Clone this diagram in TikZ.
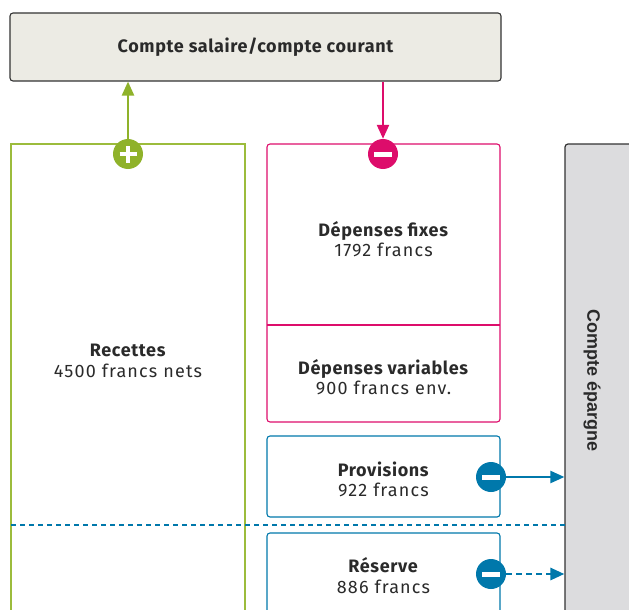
\documentclass[tikz,border=0pt]{standalone}
\usepackage{fontspec}
\setmainfont{Fira Sans}[LetterSpace=6.5, BoldFeatures={LetterSpace=3.5}]
\newfontfamily\arialf{Liberation Sans}
\usetikzlibrary{arrows.meta}
\definecolor{cgreen}{HTML}{8FB22A}
\definecolor{cgreenl}{HTML}{9CBC3C}
\definecolor{cmag}{HTML}{DD0D6B}
\definecolor{cblue}{HTML}{0078AB}
\definecolor{ctopfill}{HTML}{ECEBE4}
\definecolor{cgrayfill}{HTML}{DCDCDE}
\definecolor{cdark}{HTML}{333333}
\definecolor{ctext}{HTML}{2A2A2A}
\begin{document}
\begin{tikzpicture}[x=1pt,y=-1pt,
  txt/.style={align=center, text=ctext, font=\fontsize{18}{20.5}\selectfont, inner sep=0pt},
  topbox/.style={draw=cdark, fill=ctopfill, line width=1.1pt, rounded corners=3pt, inner sep=0pt},
  gbox/.style={draw=cgreenl, line width=1.1pt, inner sep=0pt},
  mbox/.style={draw=cmag, line width=1.1pt, rounded corners=3pt, inner sep=0pt},
  bbox/.style={draw=cblue, line width=1.1pt, rounded corners=3pt, inner sep=0pt},
  sbox/.style={draw=cdark, fill=cgrayfill, line width=1.2pt, rounded corners=3pt, inner sep=0pt},
  badge/.style={circle, inner sep=0pt, minimum size=30pt},
  tip/.style={-{Triangle[length=14pt,width=12pt]}},
]
\useasboundingbox (0,0) rectangle (629,610);
\clip (0,0) rectangle (629,610);

% boxes
\node[topbox, minimum width=491pt, minimum height=68pt] (top) at (255.5,47) {};
\node[txt, font=\fontsize{18}{20}\selectfont\bfseries] (toptxt) at (255.5,47.5) {Compte salaire/compte courant};

\node[gbox, minimum width=234pt, minimum height=600pt] (rec) at (128,444) {};
\node[txt] (rectxt) at (128,361) {\textbf{Recettes}\\4500 francs nets};

\node[mbox, minimum width=233pt, minimum height=278pt] (dep) at (383.5,283) {};
\coordinate (divL) at (267,325);
\coordinate (divR) at (500,325);
\draw[cmag, line width=1.1pt] (divL) -- (divR);
\node[txt] (fixtxt) at (383.5,239) {\textbf{Dépenses fixes}\\1792 francs};
\node[txt] (vartxt) at (383.5,377.4) {\textbf{Dépenses variables}\\900 francs env.};

\node[bbox, minimum width=233pt, minimum height=81pt] (prov) at (383.5,476.5) {};
\node[txt] (provtxt) at (383.5,479.5) {\textbf{Provisions}\\922 francs};

\node[bbox, minimum width=233pt, minimum height=160pt] (res) at (383.5,613) {};
\node[txt] (restxt) at (383.5,575.4) {\textbf{Réserve}\\886 francs};

\node[sbox, minimum width=90pt, minimum height=600pt] (epa) at (610,444) {};
\node[txt, font=\arialf\fontsize{18}{20}\selectfont\bfseries, rotate=-90] (epatxt) at (592,381) {Compte épargne};

% dashed separator
\coordinate (sepL) at (11,525);
\coordinate (sepR) at (565,525);
\draw[cblue, line width=1.2pt, dash pattern=on 5pt off 4pt] (sepL) -- (sepR);

% badges
\node[badge, fill=cgreen] (plus) at (128,154) {};
\draw[white, line width=3.5pt] ([xshift=-8.5pt]plus.center) -- ([xshift=8.5pt]plus.center);
\draw[white, line width=3.5pt] ([yshift=-8.5pt]plus.center) -- ([yshift=8.5pt]plus.center);

\node[badge, fill=cmag] (mminus) at (383,154) {};
\draw[white, line width=5pt] ([xshift=-9pt]mminus.center) -- ([xshift=9pt]mminus.center);

\node[badge, fill=cblue] (pminus) at (491,477) {};
\draw[white, line width=5pt] ([xshift=-9pt]pminus.center) -- ([xshift=9pt]pminus.center);

\node[badge, fill=cblue] (rminus) at (491,574) {};
\draw[white, line width=5pt] ([xshift=-9pt]rminus.center) -- ([xshift=9pt]rminus.center);

% connectors
\draw[cgreen, line width=2.3pt, tip] (plus.north) -- (plus.north |- top.south);
\draw[cmag, line width=2.3pt, tip] (mminus.north |- top.south) -- (mminus.north);
\draw[cblue, line width=2.3pt, tip] (pminus.east) -- (pminus.east -| epa.west);
\draw[cblue, line width=2.8pt, dash pattern=on 6pt off 4pt, tip] (rminus.east) -- (rminus.east -| epa.west);
\end{tikzpicture}
\end{document}
